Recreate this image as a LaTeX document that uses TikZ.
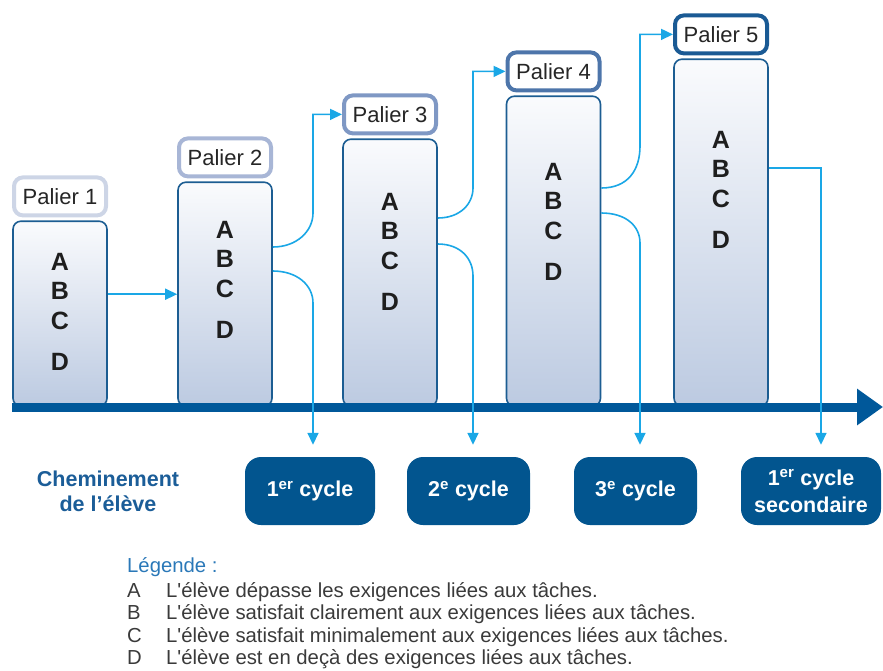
\documentclass[tikz,border=0pt]{standalone}
\usepackage{fontspec}
\setmainfont{Liberation Sans}
\usepackage{xcolor}
\usetikzlibrary{arrows.meta,positioning}

\definecolor{axisblue}{HTML}{00589A}
\definecolor{linkblue}{HTML}{1AA7E6}
\definecolor{coledge}{HTML}{1C5D92}
\definecolor{coltop}{HTML}{FAFBFD}
\definecolor{colbottom}{HTML}{BCCAE1}
\definecolor{cyclefill}{HTML}{02558F}
\definecolor{routeblue}{HTML}{1B5D98}
\definecolor{legendblue}{HTML}{2A78B8}
\definecolor{legendtext}{HTML}{3A3A3A}
\definecolor{gradetext}{HTML}{1E1E1E}
\definecolor{lvlone}{HTML}{CDD5E6}
\definecolor{lvltwo}{HTML}{A8B6D6}
\definecolor{lvlthree}{HTML}{7F98C4}
\definecolor{lvlfour}{HTML}{4D75AA}
\definecolor{lvlfive}{HTML}{1A5A94}

\begin{document}
\begin{tikzpicture}[
  x=1pt, y=-1pt,
  col/.style={draw=coledge, line width=1.6pt, rounded corners=8pt, top color=coltop, bottom color=colbottom, minimum width=94pt, inner sep=0pt, anchor=south},
  lvl/.style={draw=#1, line width=4pt, fill=white, rounded corners=9pt, minimum width=92pt, minimum height=38pt, inner sep=0pt, text=black!85, font=\fontsize{22}{26}\selectfont},
  grade/.style={inner sep=0pt, text=gradetext, font=\fontsize{25}{30}\selectfont\bfseries},
  cyc/.style={fill=cyclefill, rounded corners=16pt, minimum height=68pt, inner sep=0pt, align=center, text=white, font=\fontsize{21.5}{27}\selectfont\bfseries},
  link/.style={draw=linkblue, line width=1.6pt, -{Triangle[length=12pt,width=11pt]}},
  axis/.style={draw=axisblue, line width=9pt, -{Triangle[length=26pt,width=35pt]}},
  note/.style={inner sep=0pt, anchor=base west, font=\fontsize{20.3}{24}\selectfont}
]
\useasboundingbox (0,0) rectangle (883,670);

\foreach \n/\x/\h/\c in {1/60/185/lvlone, 2/225/224/lvltwo, 3/390/267/lvlthree, 4/553.5/310/lvlfour, 5/721/347/lvlfive} {
  \node[col, minimum height=\h pt] (c\n) at (\x,407) {};
  \node[lvl=\c, above=3pt of c\n] (p\n) {Palier \n};
}
\foreach \n/\x/\y in {1/60/262, 2/225/230, 3/390/202, 4/553.5/172, 5/721/140} {
  \node[grade] (ga\n) at (\x,\y) {A};
  \node[grade] (gb\n) at (\x,\y+29) {B};
  \node[grade] (gc\n) at (\x,\y+59) {C};
  \node[grade] (gd\n) at (\x,\y+100) {D};
}

\coordinate (start) at (12,407);
\coordinate (end) at (883,407);
\draw[axis] (start) -- (end);

\node[cyc, minimum width=130pt] (cy1) at (310,491) {1\textsuperscript{er} cycle};
\node[cyc, minimum width=123pt] (cy2) at (468.5,491) {2\textsuperscript{e} cycle};
\node[cyc, minimum width=123pt] (cy3) at (635.5,491) {3\textsuperscript{e} cycle};
\node[cyc, minimum width=140pt] (cy4) at (811,491) {1\textsuperscript{er} cycle\\secondaire};
\node[align=center, text=routeblue, font=\fontsize{21.5}{25}\selectfont\bfseries] (route) at (108,491) {Cheminement\\de l’élève};

\draw[link] (c1.east |- c2.west) -- (c2.west);
\draw[link] (c2.east |- 0,247) .. controls (297,247) and (313,231) .. (313,213) |- (p3.west);
\draw[link, shorten >=12pt] (c2.east |- 0,271) .. controls (297,271) and (313,285) .. (313,303) -- (313,0 |- cy1.north);
\draw[link] (c3.east |- 0,218) .. controls (460,218) and (473,204) .. (473,188) |- (p4.west);
\draw[link, shorten >=12pt] (c3.east |- 0,244) .. controls (460,244) and (473,258) .. (473,276) -- (473,0 |- cy2.north);
\draw[link] (c4.east |- 0,188) .. controls (628,188) and (640,170) .. (640,146) |- (p5.west);
\draw[link, shorten >=12pt] (c4.east |- 0,213) .. controls (626,213) and (640,226) .. (640,243) -- (640,0 |- cy3.north);
\draw[link, shorten >=12pt] (c5.east |- 0,168) -| (821,0 |- cy4.north);

\node[note, text=legendblue] (legend) at (127,572) {Légende :};
\foreach \k/\y/\t in {A/597/L\textquotesingle élève dépasse les exigences liées aux tâches., B/619/L\textquotesingle élève satisfait clairement aux exigences liées aux tâches., C/642/L\textquotesingle élève satisfait minimalement aux exigences liées aux tâches., D/664/L\textquotesingle élève est en deçà des exigences liées aux tâches.} {
  \node[note, text=legendtext] (key\k) at (127,\y) {\k};
  \node[note, text=legendtext] (row\k) at (166,\y) {\t};
}
\end{tikzpicture}
\end{document}
